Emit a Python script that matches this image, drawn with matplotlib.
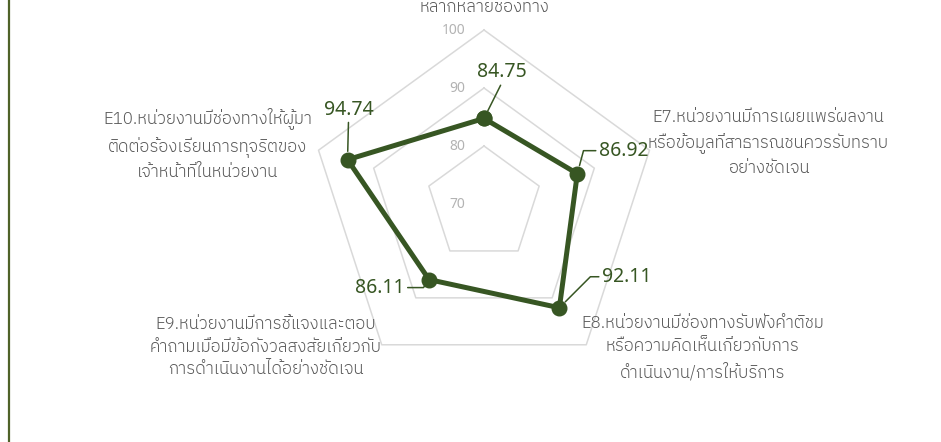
import numpy as np
import matplotlib
matplotlib.use("Agg")
import matplotlib.pyplot as plt
from matplotlib.lines import Line2D

# ---- data ----
categories = [
    "E6.หน่วยงานมีการเผยแพร่ข้อมูลที่\nเป็นประโยชน์ผ่านช่องทางที่\nหลากหลายช่องทาง",
    "E7.หน่วยงานมีการเผยแพร่ผลงาน\nหรือข้อมูลที่สาธารณชนควรรับทราบ\nอย่างชัดเจน",
    "E8.หน่วยงานมีช่องทางรับฟังคำติชม\nหรือความคิดเห็นเกี่ยวกับการ\nดำเนินงาน/การให้บริการ",
    "E9.หน่วยงานมีการชี้แจงและตอบ\nคำถามเมื่อมีข้อกังวลสงสัยเกี่ยวกับ\nการดำเนินงานได้อย่างชัดเจน",
    "E10.หน่วยงานมีช่องทางให้ผู้มา\nติดต่อร้องเรียนการทุจริตของ\nเจ้าหน้าที่ในหน่วยงาน",
]
values = [84.75, 86.92, 92.11, 86.11, 94.74]
ring_values = [70, 80, 90, 100]
ring_labels = ["70", "80", "90", "100"]
r_min, r_max = 70, 100

GREEN = "#375623"
GRID = "#d9d9d9"
LABEL_GRAY = "#595959"
TICK_GRAY = "#b3b3b3"
THAI = ["IBM Plex Sans Thai", "Noto Sans Thai UI", "DejaVu Sans"]
NUM = ["Noto Sans", "DejaVu Sans"]

W, H, DPI = 941, 442, 100
fig = plt.figure(figsize=(W / DPI, H / DPI), dpi=DPI)
fig.patch.set_facecolor("white")

cx, cy, R = 484, 204, 174
ax = fig.add_axes([(cx - R) / W, 1 - (cy + R) / H, 2 * R / W, 2 * R / H],
                  projection="polar")
ax.set_theta_zero_location("N")
ax.set_theta_direction(-1)
ax.set_ylim(r_min, r_max)
ax.grid(False)
ax.set_xticks([])
ax.set_yticks([])
ax.spines["polar"].set_visible(False)
ax.patch.set_alpha(0)

n = len(values)
theta = np.arange(n) * 2 * np.pi / n
theta_c = np.append(theta, theta[0])

# pentagon grid rings
for rv in ring_values[1:]:
    ax.plot(theta_c, [rv] * (n + 1), color=GRID, lw=1.1, zorder=1, clip_on=False)

# ring labels
for rv, rl in zip(ring_values, ring_labels):
    ax.annotate(rl, xy=(0, rv), xytext=(-19, 0), textcoords="offset pixels",
                ha="right", va="center", fontsize=10, color=TICK_GRAY,
                family=NUM, annotation_clip=False)

# data series
vals_c = values + values[:1]
ax.plot(theta_c, vals_c, color=GREEN, lw=3.6, zorder=3, clip_on=False,
        marker="o", markersize=10.5, markerfacecolor=GREEN, markeredgecolor=GREEN)

# category labels (offsets in pixels from the outer vertex)
cat_specs = [((0, 15), "bottom"), ((119, 8), "center"), ((116, -3), "center"),
             ((-116, -2), "center"), ((-111, 7), "center")]
for t, lab, ((dx, dy), va) in zip(theta, categories, cat_specs):
    ax.annotate(lab, xy=(t, r_max), xytext=(dx, dy), textcoords="offset pixels",
                ha="center", va=va, multialignment="center",
                fontsize=12.2, color=LABEL_GRAY, family=THAI, weight=300,
                linespacing=1.5, annotation_clip=False)

# value labels with leader lines
val_specs = [
    dict(off=(18, 46), relpos=(0.5, 0.0), conn="arc3"),
    dict(off=(46, 23), relpos=(0, 0.5), conn="angle,angleA=0,angleB=75,rad=0"),
    dict(off=(67, 31), relpos=(0, 0.5), conn="angle,angleA=0,angleB=45,rad=0"),
    dict(off=(-49, -8), relpos=(1, 0.5), conn="angle,angleA=0,angleB=55,rad=0"),
    dict(off=(1, 50), relpos=(0.5, 0.0), conn="arc3"),
]
for t, v, sp in zip(theta, values, val_specs):
    ax.annotate(f"{v:.2f}", xy=(t, v), xytext=sp["off"], textcoords="offset pixels",
                ha="center", va="center", fontsize=14, color=GREEN, family=NUM,
                annotation_clip=False,
                arrowprops=dict(arrowstyle="-", color=GREEN, lw=1.1,
                                relpos=sp["relpos"], connectionstyle=sp["conn"],
                                shrinkA=0, shrinkB=6))

# left border line
fig.add_artist(Line2D([8.5 / W, 8.5 / W], [0, 1], transform=fig.transFigure,
                      color="#4f6228", lw=1.6))

fig.savefig("out.png", dpi=DPI)
